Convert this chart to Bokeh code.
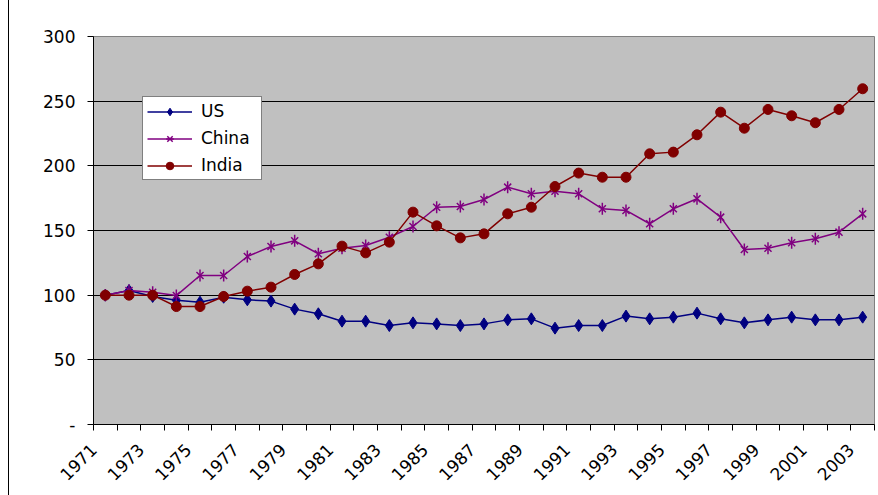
import math
from bokeh.plotting import figure
from bokeh.models import Range1d, FixedTicker, Legend, LegendItem, ColumnDataSource
from bokeh.embed import file_html
from bokeh.resources import INLINE

years = list(range(1971, 2004))
us = [100, 103.6, 99, 96, 94.6, 98.4, 96.4, 95.4, 89.2, 85.6, 79.9, 79.9, 76.5, 78.6, 77.8, 76.5,
      77.8, 80.9, 81.7, 74.5, 76.5, 76.5, 83.8, 81.7, 83, 86.1, 81.7, 78.6, 80.9, 83, 80.9, 80.9, 83]
china = [100, 103.6, 102.3, 99.7, 115.2, 115.2, 129.9, 137.6, 142, 132, 136.3, 138.4, 144.8, 153.1,
         168, 168.6, 174, 183.5, 178.4, 180.4, 178.4, 166.8, 165.5, 155.2, 166.8, 174.5, 160.3,
         135.3, 136.3, 140.5, 143.6, 148.7, 162.9]
india = [100, 100, 100, 91.2, 91.2, 99, 103.1, 106.2, 116, 124.2, 137.9, 132.7, 141, 164.2, 153.6,
         144.3, 147.4, 162.9, 168, 184, 194.4, 191.2, 191.2, 209.3, 210.6, 224, 241.5, 229.1,
         243.6, 238.7, 233.3, 243.6, 259.6]
y_ticks = [0, 50, 100, 150, 200, 250, 300]

FONT = "DejaVu Sans"
idx = list(range(len(years)))
src = ColumnDataSource(dict(x=idx, us=us, china=china, india=india))

p = figure(width=869, height=495, output_backend="svg", toolbar_location=None,
           x_range=Range1d(-0.5, len(years) - 0.5), y_range=Range1d(0, 300),
           min_border_left=84, min_border_right=4, min_border_top=36, min_border_bottom=71,
           background_fill_color="#C0C0C0", border_fill_color="white")
p.outline_line_color = "#808080"
p.styles = {"margin-left": "8px", "border-left": "1px solid black"}

# axes
p.xgrid.visible = False
p.ygrid.grid_line_color = "black"
p.ygrid.grid_line_width = 1
p.yaxis.ticker = FixedTicker(ticks=y_ticks)
p.yaxis.major_label_overrides = {0: "-"}
p.yaxis.minor_tick_line_color = None
p.yaxis.major_tick_in = 0
p.yaxis.major_tick_out = 6
p.yaxis.axis_line_color = "black"
p.yaxis.major_tick_line_color = "black"
p.yaxis.major_label_text_color = "black"
p.yaxis.major_label_text_font = FONT
p.yaxis.major_label_text_font_size = "17px"
p.yaxis.major_label_standoff = 12

bounds = [i - 0.5 for i in range(len(years) + 1)]
p.xaxis.ticker = FixedTicker(ticks=bounds)
p.xaxis.major_label_overrides = {b: (str(years[i]) if (i % 2 == 0 and i < len(years)) else "")
                                 for i, b in enumerate(bounds)}
p.xaxis.minor_tick_line_color = None
p.xaxis.major_tick_in = 0
p.xaxis.major_tick_out = 6
p.xaxis.axis_line_color = "black"
p.xaxis.major_tick_line_color = "black"
p.xaxis.major_label_text_color = "black"
p.xaxis.major_label_orientation = math.pi / 4
p.xaxis.major_label_text_font = FONT
p.xaxis.major_label_text_font_size = "17px"
p.xaxis.major_label_standoff = 16

US_C, CN_C, IN_C = "#000080", "#800080", "#800000"
lw = 1.5
l_us = p.line("x", "us", source=src, line_color=US_C, line_width=lw)
m_us = p.scatter("x", "us", source=src, marker="diamond", size=12,
                 fill_color=US_C, line_color=US_C)
l_cn = p.line("x", "china", source=src, line_color=CN_C, line_width=lw)
m_cn1 = p.scatter("x", "china", source=src, marker="x", size=10, line_color=CN_C, line_width=1.5)
m_cn2 = p.scatter("x", "china", source=src, marker="dash", angle=math.pi / 2, size=12,
                  line_color=CN_C, line_width=1.5)
l_in = p.line("x", "india", source=src, line_color=IN_C, line_width=lw)
m_in = p.scatter("x", "india", source=src, marker="circle", size=10, fill_color=IN_C, line_color=IN_C)

legend = Legend(items=[
    LegendItem(label="US", renderers=[l_us, m_us]),
    LegendItem(label="China", renderers=[l_cn, m_cn1, m_cn2]),
    LegendItem(label="India", renderers=[l_in, m_in]),
], location=(49, 244))
legend.border_line_color = "black"
legend.border_line_width = 1
legend.background_fill_color = "white"
legend.background_fill_alpha = 1
legend.padding = 4
legend.spacing = 7
legend.glyph_width = 45
legend.glyph_height = 19
legend.label_height = 19
legend.label_width = 56
legend.label_standoff = 9
legend.margin = 0
legend.label_text_font = FONT
legend.label_text_font_size = "17px"
legend.label_text_color = "black"
p.add_layout(legend, "center")

open("out.html", "w").write(file_html(p, INLINE))
